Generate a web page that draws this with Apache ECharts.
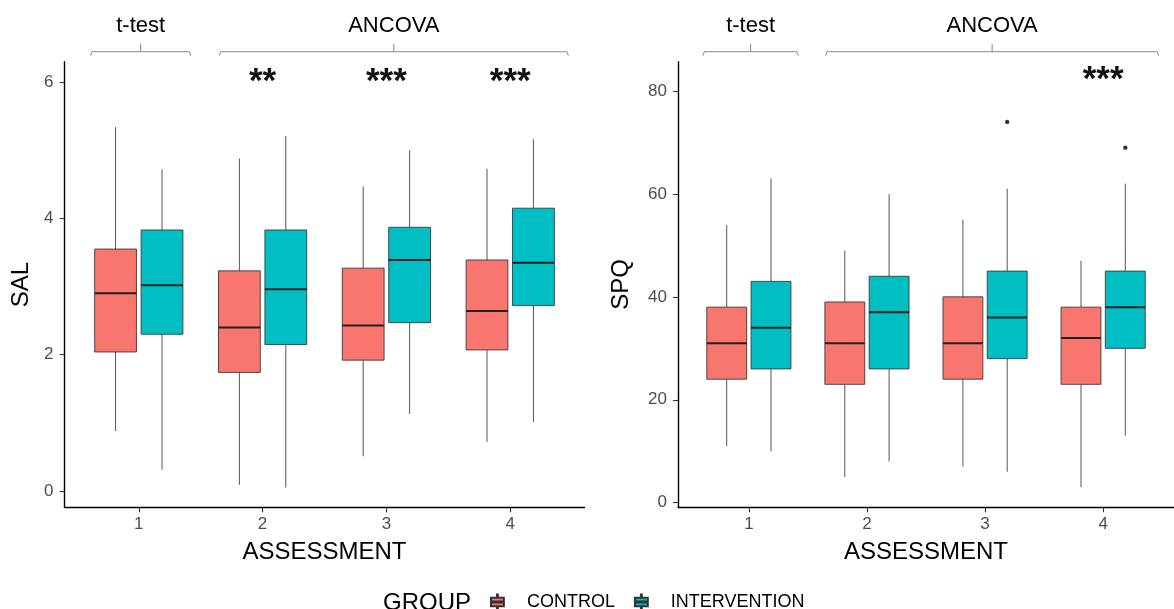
<!DOCTYPE html>
<html>
<head>
<meta charset="utf-8">
<script src="https://cdn.jsdelivr.net/npm/echarts@6/dist/echarts.min.js"></script>
<style>
html,body{margin:0;padding:0;background:#fff;}
#chart{width:1174px;height:609px;}
</style>
</head>
<body>
<div id="chart"></div>
<script>
// ---- data ----
const assessments = [1, 2, 3, 4];
// each row: [low whisker, Q1, median, Q3, high whisker]
const salControl = [
  [0.88, 2.04, 2.90, 3.55, 5.34],
  [0.09, 1.74, 2.40, 3.23, 4.88],
  [0.51, 1.92, 2.43, 3.27, 4.47],
  [0.72, 2.07, 2.64, 3.39, 4.73]
];
const salIntervention = [
  [0.31, 2.30, 3.02, 3.83, 4.72],
  [0.05, 2.15, 2.96, 3.83, 5.21],
  [1.13, 2.47, 3.39, 3.87, 5.00],
  [1.01, 2.72, 3.35, 4.15, 5.16]
];
const spqControl = [
  [11, 24, 31, 38, 54],
  [5, 23, 31, 39, 49],
  [7, 24, 31, 40, 55],
  [3, 23, 32, 38, 47]
];
const spqIntervention = [
  [10, 26, 34, 43, 63],
  [8, 26, 37, 44, 60],
  [6, 28, 36, 45, 61],
  [13, 30, 38, 45, 62]
];
const spqInterventionOutliers = [[3, 74], [4, 69]];
const salSignificance = ['', '**', '***', '***'];
const spqSignificance = ['', '', '', '***'];
const testBrackets = [
  { label: 't-test', from: 0.61, to: 1.42 },
  { label: 'ANCOVA', from: 1.65, to: 4.47 }
];
const salTicks = [0, 2, 4, 6];
const spqTicks = [0, 20, 40, 60, 80];
const groups = ['CONTROL', 'INTERVENTION'];

// ---- style ----
const FONT = 'Liberation Sans, Arial, sans-serif';
const COLORS = { CONTROL: '#F8766D', INTERVENTION: '#00BFC4' };
const DODGE = 0.1875;
const BOX_W = 0.3375;

function boxRender(color, offset) {
  return function (params, api) {
    const xv = api.value(0) + offset;
    const low = api.coord([xv, api.value(1)]);
    const q1 = api.coord([xv, api.value(2)]);
    const med = api.coord([xv, api.value(3)]);
    const q3 = api.coord([xv, api.value(4)]);
    const high = api.coord([xv, api.value(5)]);
    const half = api.size([BOX_W, 0])[0] / 2;
    const cx = low[0];
    const wh = { stroke: '#555', lineWidth: 1 };
    return {
      type: 'group',
      children: [
        { type: 'line', shape: { x1: cx, y1: high[1], x2: cx, y2: q3[1] }, style: wh },
        { type: 'line', shape: { x1: cx, y1: q1[1], x2: cx, y2: low[1] }, style: wh },
        { type: 'rect', shape: { x: cx - half, y: q3[1], width: half * 2, height: q1[1] - q3[1] },
          style: { fill: color, stroke: '#3a3a3a', lineWidth: 0.9 } },
        { type: 'line', shape: { x1: cx - half, y1: med[1], x2: cx + half, y2: med[1] },
          style: { stroke: '#222', lineWidth: 2 } }
      ]
    };
  };
}

function boxSeries(name, rows, panel, offset) {
  return {
    type: 'custom',
    name: name,
    xAxisIndex: panel,
    yAxisIndex: panel,
    itemStyle: { color: COLORS[name], borderColor: '#333', borderWidth: 0.6 },
    dimensions: ['x', 'low', 'q1', 'median', 'q3', 'high'],
    encode: { x: 0, y: [1, 2, 3, 4, 5] },
    data: rows.map((r, i) => [assessments[i]].concat(r)),
    renderItem: boxRender(COLORS[name], offset),
    z: 2
  };
}

function outlierSeries(points, panel, offset) {
  return {
    type: 'custom',
    name: 'outliers',
    xAxisIndex: panel,
    yAxisIndex: panel,
    data: points,
    encode: { x: 0, y: 1 },
    renderItem: function (params, api) {
      const p = api.coord([api.value(0) + offset, api.value(1)]);
      return { type: 'circle', shape: { cx: p[0], cy: p[1], r: 2.2 }, style: { fill: '#333' } };
    },
    z: 3
  };
}

function sigSeries(sig, panel, level) {
  return {
    type: 'custom',
    name: 'significance',
    xAxisIndex: panel,
    yAxisIndex: panel,
    data: assessments.map(a => [a]),
    encode: { x: 0 },
    clip: false,
    renderItem: function (params, api) {
      const p = api.coord([api.value(0), level]);
      return {
        type: 'text',
        style: {
          text: sig[params.dataIndex], x: p[0], y: p[1],
          align: 'center', verticalAlign: 'middle',
          fontSize: 35, fontWeight: 'bold', fontFamily: FONT, fill: '#111'
        }
      };
    }
  };
}

function bracketSeries(panel) {
  return {
    type: 'custom',
    name: 'brackets',
    xAxisIndex: panel,
    yAxisIndex: panel,
    data: testBrackets.map(b => [b.from, b.to]),
    encode: { x: [0, 1] },
    clip: false,
    renderItem: function (params, api) {
      const top = params.coordSys.y;
      const x1 = api.coord([api.value(0), 0])[0];
      const x2 = api.coord([api.value(1), 0])[0];
      const xm = (x1 + x2) / 2;
      const yl = top - 10;
      const st = { stroke: '#8a8a8a', lineWidth: 1, fill: null };
      return {
        type: 'group',
        children: [
          { type: 'polyline', shape: { points: [[x1, yl + 4], [x1 + 1.5, yl], [x2 - 1.5, yl], [x2, yl + 4]] }, style: st },
          { type: 'line', shape: { x1: xm, y1: yl, x2: xm, y2: yl - 8 }, style: st },
          { type: 'text', style: {
              text: testBrackets[params.dataIndex].label, x: xm, y: top - 36,
              align: 'center', verticalAlign: 'middle',
              fontSize: 22, fontFamily: FONT, fill: '#000' } }
        ]
      };
    }
  };
}

function xAxisFor(panel) {
  return {
    type: 'value', gridIndex: panel, min: 0.4, max: 4.6,
    splitLine: { show: false },
    axisLine: { show: true, onZero: false, lineStyle: { color: '#000', width: 1.4 } },
    axisTick: { show: true, customValues: assessments, length: 5, lineStyle: { color: '#333', width: 1.1 } },
    axisLabel: { customValues: assessments, color: '#4d4d4d', fontSize: 17, fontFamily: FONT, margin: 9 },
    name: 'ASSESSMENT', nameLocation: 'middle', nameGap: 33,
    nameTextStyle: { fontSize: 24, color: '#000', fontFamily: FONT }
  };
}

function yAxisFor(panel, min, max, ticks, name, gap) {
  return {
    type: 'value', gridIndex: panel, min: min, max: max,
    splitLine: { show: false },
    axisLine: { show: true, onZero: false, lineStyle: { color: '#000', width: 1.4 } },
    axisTick: { show: true, customValues: ticks, length: 5, lineStyle: { color: '#333', width: 1.1 } },
    axisLabel: { customValues: ticks, color: '#4d4d4d', fontSize: 17, fontFamily: FONT, margin: 11 },
    name: name, nameLocation: 'middle', nameGap: gap, nameRotate: 90,
    nameTextStyle: { fontSize: 24, color: '#000', fontFamily: FONT }
  };
}

const legendIcon = 'path://M0,3H12V11H0Z M5.6,0H6.4V3H5.6Z M5.6,11H6.4V14H5.6Z M0,6.6H12V7.4H0Z';

const option = {
  animation: false,
  backgroundColor: '#fff',
  textStyle: { fontFamily: FONT },
  title: {
    text: 'GROUP', left: 383, top: 591, padding: 0,
    textStyle: { fontSize: 24, fontWeight: 'normal', color: '#000', fontFamily: FONT }
  },
  legend: {
    data: groups, left: 490, top: 593, padding: 0,
    itemWidth: 13, itemHeight: 15, itemGap: 19, icon: legendIcon,
    textStyle: { fontSize: 18, color: '#000', fontFamily: FONT, padding: [0, 0, 0, 18] }
  },
  grid: [
    { left: 64.5, top: 61.7, width: 520, height: 445.6 },
    { left: 678, top: 61.7, width: 509, height: 445.6 }
  ],
  xAxis: [xAxisFor(0), xAxisFor(1)],
  yAxis: [
    yAxisFor(0, -0.24, 6.30, salTicks, 'SAL', 31),
    yAxisFor(1, -0.9, 85.7, spqTicks, 'SPQ', 45)
  ],
  series: [
    boxSeries('CONTROL', salControl, 0, -DODGE),
    boxSeries('INTERVENTION', salIntervention, 0, DODGE),
    boxSeries('CONTROL', spqControl, 1, -DODGE),
    boxSeries('INTERVENTION', spqIntervention, 1, DODGE),
    outlierSeries(spqInterventionOutliers, 1, DODGE),
    sigSeries(salSignificance, 0, 6.0),
    sigSeries(spqSignificance, 1, 82),
    bracketSeries(0),
    bracketSeries(1)
  ]
};

const chart = echarts.init(document.getElementById('chart'), null, { renderer: 'canvas' });
chart.setOption(option);
</script>
</body>
</html>
